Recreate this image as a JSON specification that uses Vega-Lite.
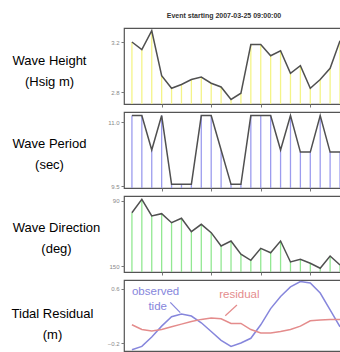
{
  "$schema": "https://vega.github.io/schema/vega-lite/v6.json",
  "padding": {"left": 10, "top": 11, "right": 0, "bottom": 0},
  "spacing": 8,
  "bounds": "flush",
  "config": {
    "view": {"stroke": "#555555", "strokeWidth": 1.2},
    "axis": {"grid": false, "domain": false, "tickColor": "#777777", "tickSize": 3, "labelPadding": 2, "labelColor": "#888888", "labelFontSize": 6, "labelFont": "Liberation Sans", "titleFont": "Liberation Sans", "titleFontSize": 13, "titleFontWeight": "normal", "titleColor": "#000000", "titleAngle": 0, "titleAlign": "center", "titleBaseline": "middle", "titleLineHeight": 21}
  },
  "datasets": {
    "w": [
      {"t": 0, "h": 3.20, "p": 11.15, "d": 100.8, "obs": -0.30, "res": 0.07},
      {"t": 1, "h": 3.14, "p": 11.15, "d": 88.4, "obs": -0.25, "res": 0.00},
      {"t": 2, "h": 3.29, "p": 10.35, "d": 103.8, "obs": -0.11, "res": -0.02},
      {"t": 3, "h": 2.93, "p": 11.15, "d": 101.7, "obs": 0.05, "res": 0.00},
      {"t": 4, "h": 2.83, "p": 9.55, "d": 110.0, "obs": 0.19, "res": 0.04},
      {"t": 5, "h": 2.86, "p": 9.55, "d": 105.9, "obs": 0.23, "res": 0.08},
      {"t": 6, "h": 2.90, "p": 9.55, "d": 118.3, "obs": 0.20, "res": 0.12},
      {"t": 7, "h": 2.92, "p": 11.15, "d": 111.5, "obs": 0.10, "res": 0.15},
      {"t": 8, "h": 2.87, "p": 11.15, "d": 119.2, "obs": -0.03, "res": 0.17},
      {"t": 9, "h": 2.84, "p": 10.35, "d": 131.5, "obs": -0.16, "res": 0.16},
      {"t": 10, "h": 2.74, "p": 9.55, "d": 126.9, "obs": -0.25, "res": 0.09},
      {"t": 11, "h": 2.79, "p": 9.55, "d": 139.1, "obs": -0.20, "res": 0.09},
      {"t": 12, "h": 3.18, "p": 11.15, "d": 144.7, "obs": -0.13, "res": 0.00},
      {"t": 13, "h": 3.18, "p": 11.15, "d": 133.6, "obs": 0.07, "res": -0.05},
      {"t": 14, "h": 3.09, "p": 11.15, "d": 137.7, "obs": 0.31, "res": -0.05},
      {"t": 15, "h": 3.13, "p": 10.35, "d": 126.9, "obs": 0.49, "res": -0.03},
      {"t": 16, "h": 2.95, "p": 11.15, "d": 146.2, "obs": 0.63, "res": 0.00},
      {"t": 17, "h": 3.01, "p": 10.30, "d": 143.7, "obs": 0.71, "res": 0.05},
      {"t": 18, "h": 2.83, "p": 10.30, "d": 147.4, "obs": 0.69, "res": 0.13},
      {"t": 19, "h": 2.90, "p": 11.15, "d": 152.0, "obs": 0.54, "res": 0.14},
      {"t": 20, "h": 2.99, "p": 10.30, "d": 140.7, "obs": 0.29, "res": 0.15},
      {"t": 21, "h": 3.21, "p": 10.30, "d": 149.0, "obs": 0.04, "res": 0.15}
    ],
    "ann": [
      {"x": 2.39, "y": 0.553, "label": "observed", "kind": "obs"},
      {"x": 2.6, "y": 0.338, "label": "tide", "kind": "obs"},
      {"x": 10.84, "y": 0.51, "label": "residual", "kind": "res"}
    ],
    "lead": [
      {"x": 3.87, "x2": 4.88, "y": 0.403, "y2": 0.249, "kind": "obs"},
      {"x": 10.6, "x2": 9.42, "y": 0.363, "y2": 0.204, "kind": "res"}
    ]
  },
  "vconcat": [
    {
      "width": 218, "height": 76,
      "title": {"text": "Event starting 2007-03-25 09:00:00", "fontSize": 7, "fontWeight": "bold", "color": "#333333", "font": "Liberation Sans", "offset": 9, "dx": -9, "anchor": "middle"},
      "data": {"name": "w"},
      "encoding": {"x": {"field": "t", "type": "quantitative", "scale": {"domain": [-0.8, 21.2], "nice": false, "zero": false}, "axis": {"values": [3, 8, 13, 18], "labels": false, "title": null}}},
      "layer": [
        {"mark": {"type": "rule", "color": "#f4f488", "strokeWidth": 1.3},
         "encoding": {"y": {"field": "h", "type": "quantitative", "scale": {"domain": [2.704, 3.312], "nice": false, "zero": false},
           "axis": {"values": [2.8, 3.0, 3.2], "format": ".1f", "labelOverlap": false, "title": ["Wave Height", "(Hsig m)"], "titleX": -75, "titleY": 32}},
           "y2": {"datum": 2.704}}},
        {"mark": {"type": "line", "color": "#505050", "strokeWidth": 1.5}, "encoding": {"y": {"field": "h", "type": "quantitative"}}}
      ]
    },
    {
      "width": 218, "height": 76,
      "data": {"name": "w"},
      "encoding": {"x": {"field": "t", "type": "quantitative", "scale": {"domain": [-0.8, 21.2], "nice": false, "zero": false}, "axis": {"values": [3, 8, 13, 18], "labels": false, "title": null}}},
      "layer": [
        {"mark": {"type": "rule", "color": "#9c9cee", "strokeWidth": 1.3},
         "encoding": {"y": {"field": "p", "type": "quantitative", "scale": {"domain": [9.465, 11.233], "nice": false, "zero": false},
           "axis": {"values": [9.5, 10, 10.5, 11], "format": ".1f", "labelOverlap": false, "title": ["Wave Period", "(sec)"], "titleX": -75, "titleY": 31}},
           "y2": {"datum": 9.465}}},
        {"mark": {"type": "line", "color": "#505050", "strokeWidth": 1.5}, "encoding": {"y": {"field": "p", "type": "quantitative"}}}
      ]
    },
    {
      "width": 218, "height": 76,
      "data": {"name": "w"},
      "encoding": {"x": {"field": "t", "type": "quantitative", "scale": {"domain": [-0.8, 21.2], "nice": false, "zero": false}, "axis": {"values": [3, 8, 13, 18], "labels": false, "title": null}}},
      "layer": [
        {"mark": {"type": "rule", "color": "#92e892", "strokeWidth": 1.3},
         "encoding": {"y": {"field": "d", "type": "quantitative", "scale": {"domain": [85.4, 155.45], "nice": false, "zero": false, "reverse": true},
           "axis": {"values": [90, 110, 130, 150], "labelOverlap": false, "title": ["Wave Direction", "(deg)"], "titleX": -68, "titleY": 31}},
           "y2": {"datum": 155.45}}},
        {"mark": {"type": "line", "color": "#505050", "strokeWidth": 1.5}, "encoding": {"y": {"field": "d", "type": "quantitative"}}}
      ]
    },
    {
      "width": 218, "height": 71,
      "encoding": {"x": {"field": "t", "type": "quantitative", "scale": {"domain": [-0.8, 21.2], "nice": false, "zero": false}, "axis": null}},
      "layer": [
        {"data": {"name": "w"},
         "transform": [{"fold": ["obs", "res"], "as": ["series", "v"]}],
         "mark": {"type": "line", "strokeWidth": 1.5},
         "encoding": {
           "y": {"field": "v", "type": "quantitative", "scale": {"domain": [-0.318, 0.733], "nice": false, "zero": false},
             "axis": {"values": [-0.2, 0, 0.2, 0.4, 0.6], "format": ".1f", "labelOverlap": false, "title": ["Tidal Residual", "(m)"], "titleX": -72, "titleY": 33}},
           "color": {"field": "series", "type": "nominal", "scale": {"domain": ["obs", "res"], "range": ["#8686dc", "#e48c8c"]}, "legend": null}
         }},
        {"data": {"name": "lead"},
         "mark": {"type": "rule", "strokeWidth": 1.2},
         "encoding": {
           "x": {"field": "x", "type": "quantitative"},
           "x2": {"field": "x2"},
           "y": {"field": "y", "type": "quantitative"},
           "y2": {"field": "y2"},
           "color": {"field": "kind", "type": "nominal", "scale": {"domain": ["obs", "res"], "range": ["#1f5fb5", "#e02020"]}, "legend": null}
         }},
        {"data": {"name": "ann"},
         "mark": {"type": "text", "fontSize": 11.5, "font": "Liberation Sans", "baseline": "middle", "align": "center"},
         "encoding": {
           "x": {"field": "x", "type": "quantitative"},
           "y": {"field": "y", "type": "quantitative"},
           "text": {"field": "label"},
           "color": {"field": "kind", "type": "nominal", "scale": {"domain": ["obs", "res"], "range": ["#3a7bd5", "#e83030"]}, "legend": null}
         }}
      ]
    }
  ]
}
